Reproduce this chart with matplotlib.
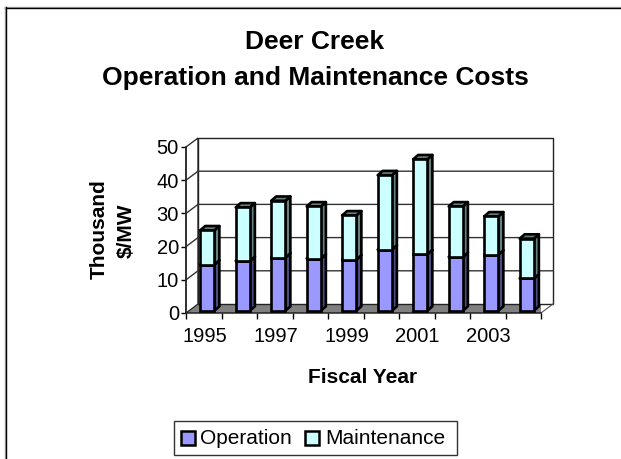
import matplotlib
matplotlib.use('Agg')
import matplotlib.pyplot as plt
from matplotlib.patches import Polygon, Rectangle
from matplotlib.lines import Line2D

plt.rcParams['font.family'] = ['Liberation Sans', 'DejaVu Sans']

# --- data ---
years = [1995, 1996, 1997, 1998, 1999, 2000, 2001, 2002, 2003, 2004]
tick_labels = ['1995', '', '1997', '', '1999', '', '2001', '', '2003', '']
operation = [13.9, 15.0, 16.0, 15.7, 15.4, 18.4, 17.0, 16.2, 16.9, 9.7]
maintenance = [10.3, 16.1, 17.1, 15.7, 13.3, 22.4, 28.6, 15.2, 11.5, 12.0]

W, H = 621, 459
fig = plt.figure(figsize=(W / 100, H / 100), dpi=100)

# axes = front plane of the fake 3D box
left, right, top, bottom = 186, 541, 147, 313
ax = fig.add_axes([left / W, 1 - bottom / H, (right - left) / W, (bottom - top) / H])
ax.set_xlim(0, 10)
ax.set_ylim(0, 50)
ax.patch.set_visible(False)
for s in ['top', 'right']:
    ax.spines[s].set_visible(False)
for s in ['left', 'bottom']:
    ax.spines[s].set_linewidth(1.1)
    ax.spines[s].set_color('#222222')

# depth of the box in data units
dx = 12 / ((right - left) / 10)
dy = 9 / ((bottom - top) / 50)

# floor and back wall
ax.add_patch(Polygon([(0, 0), (10, 0), (10 + dx, dy), (dx, dy)], closed=True,
                     facecolor='#808080', edgecolor='none', zorder=1))
ax.add_patch(Polygon([(0, 0), (dx, dy), (dx, 50 + dy), (0, 50)], closed=True,
                     facecolor='white', edgecolor='#222222', lw=0.9, zorder=1, clip_on=False))
ax.add_patch(Rectangle((dx, dy), 10, 50, facecolor='none', edgecolor='#222222', lw=1.0,
                       zorder=1.5, clip_on=False))
ax.plot([10, 10 + dx], [0, dy], color='#555555', lw=0.8, clip_on=False, zorder=1.5)
for v in range(10, 50, 10):
    ax.plot([0, dx, 10 + dx], [v, v + dy, v + dy], color='#333333', lw=1.0, zorder=1.6,
            clip_on=False, solid_joinstyle='miter')

# bars
bar_w = 0.40
off_x = 0.10
off_y = 0.7
side_x = 0.14
side_y = 1.3
edge = 1.9


def draw_box(x0, y0, h, face, side):
    ax.add_patch(Polygon([(x0 + bar_w, y0), (x0 + bar_w + side_x, y0 + side_y),
                          (x0 + bar_w + side_x, y0 + h + side_y), (x0 + bar_w, y0 + h)],
                         closed=True, facecolor=side, edgecolor='black', lw=edge, zorder=3,
                         clip_on=False, joinstyle='round'))
    ax.add_patch(Polygon([(x0, y0 + h), (x0 + side_x, y0 + h + side_y),
                          (x0 + bar_w + side_x, y0 + h + side_y), (x0 + bar_w, y0 + h)],
                         closed=True, facecolor=side, edgecolor='black', lw=edge, zorder=3,
                         clip_on=False, joinstyle='round'))
    ax.bar(x0, h, bottom=y0, width=bar_w, align='edge', color=face, edgecolor='black',
           linewidth=edge, zorder=4, clip_on=False)


for i in range(len(years)):
    x0 = i + 0.5 - bar_w / 2 + off_x
    draw_box(x0, off_y, operation[i], '#9999FF', '#4C4C80')
    draw_box(x0, off_y + operation[i], maintenance[i], '#CCFFFF', '#668080')

# axis ticks
ax.set_yticks(range(0, 51, 10))
ax.set_xticks(range(0, 11))
ax.set_xticklabels([''] * 11)
ax.tick_params(axis='y', labelsize=14.5, length=3.6, width=1.0, pad=1.5)
ax.tick_params(axis='x', length=4, width=1.0)
for i, lab in enumerate(tick_labels):
    if lab:
        ax.annotate(lab, (i, 0), xytext=(13.3, -20.8), textcoords='offset points',
                    ha='center', va='baseline', fontsize=14.5, annotation_clip=False)

# text (positions are baselines)
fig.text(315 / W, 1 - 49 / H, 'Deer Creek', ha='center', va='baseline', fontsize=19, fontweight='bold')
fig.text(315 / W, 1 - 85 / H, 'Operation and Maintenance Costs', ha='center', va='baseline',
         fontsize=19, fontweight='bold')
fig.text(105 / W, 1 - 229.5 / H, 'Thousand', ha='center', va='baseline', rotation=90,
         rotation_mode='anchor', fontsize=15, fontweight='bold')
fig.text(132 / W, 1 - 231 / H, '$/MW', ha='center', va='baseline', rotation=90,
         rotation_mode='anchor', fontsize=15, fontweight='bold')
fig.text(363 / W, 1 - 383 / H, 'Fiscal Year', ha='center', va='baseline', fontsize=15, fontweight='bold')

# legend box
fig.patches.append(Rectangle((173.5 / W, 1 - 455 / H), 283.5 / W, 34 / H, transform=fig.transFigure,
                             facecolor='white', edgecolor='#333333', lw=1.0))
for lx, tx, col, lab in [(181, 200, '#9999FF', 'Operation'), (305, 325, '#CCFFFF', 'Maintenance')]:
    fig.patches.append(Rectangle((lx / W, 1 - 445 / H), 14 / W, 14 / H, transform=fig.transFigure,
                                 facecolor=col, edgecolor='black', lw=1.8))
    fig.text(tx / W, 1 - 444.5 / H, lab, ha='left', va='baseline', fontsize=15)

# frame: only top and left show, with a soft gray edge outside
for off, col in [(7, '#AAAAAA'), (8, 'black')]:
    fig.add_artist(Line2D([5 / W, 1], [1 - off / H] * 2, color=col, lw=1.0))
for off, col in [(5, '#AAAAAA'), (6, 'black')]:
    fig.add_artist(Line2D([off / W] * 2, [0, 1 - 7 / H], color=col, lw=1.0))

fig.savefig('out.png', dpi=100)
